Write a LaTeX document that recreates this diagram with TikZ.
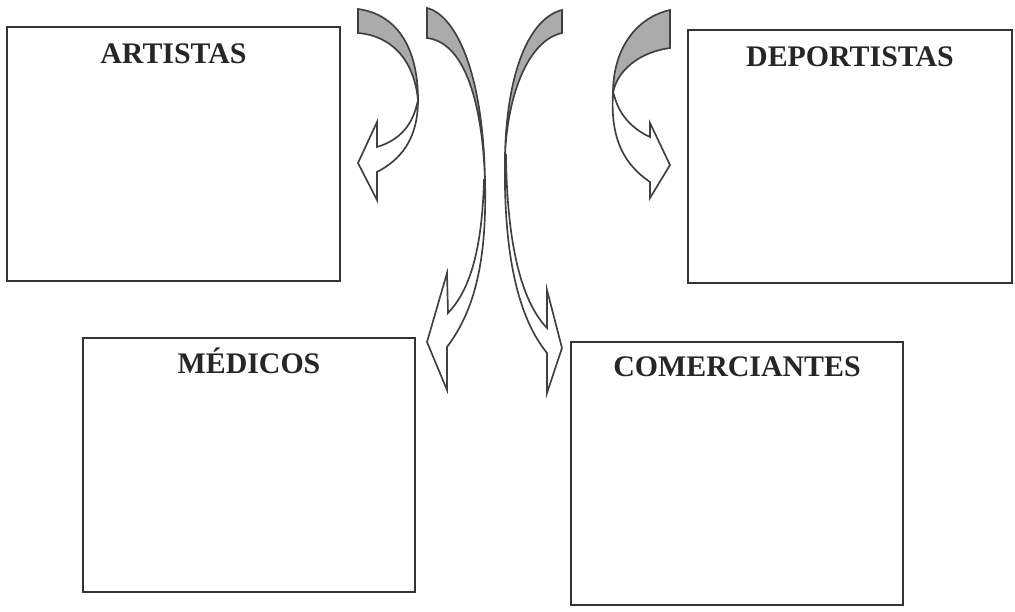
\documentclass[tikz,border=0pt]{standalone}
\usepackage{fontspec}
\setmainfont{Liberation Serif}
\begin{document}
\begin{tikzpicture}[x=0.02cm,y=-0.02cm,
    box/.style={draw=black!80,line width=1.3pt,inner sep=0pt},
    title/.style={font=\fontsize{17}{20}\selectfont\bfseries,text=black!85,anchor=base,inner sep=0pt},
    tail/.style={draw=black!75,line width=0.95pt,fill=black!33},
    body/.style={draw=black!75,line width=0.95pt,fill=white,line join=miter}]
  \useasboundingbox (0,0) rectangle (1015,612);

  % boxes
  \node[box,minimum width=6.66cm,minimum height=5.08cm] (artistas) at (173.5,154) {};
  \node[box,minimum width=6.48cm,minimum height=5.06cm] (deportistas) at (850,156.5) {};
  \node[box,minimum width=6.64cm,minimum height=5.08cm] (medicos) at (249,465) {};
  \node[box,minimum width=6.64cm,minimum height=5.26cm] (comerciantes) at (737,473.5) {};

  \node[title] (t1) at ([yshift=-0.76cm]artistas.north) {ARTISTAS};
  \node[title] (t2) at ([yshift=-0.76cm]deportistas.north) {DEPORTISTAS};
  \node[title] (t3) at ([yshift=-0.74cm]medicos.north) {MÉDICOS};
  \node[title] (t4) at ([yshift=-0.72cm]comerciantes.north) {COMERCIANTES};

  % arrow to artistas
  \draw[tail] (358,9) .. controls (395,14) and (418,45) .. (418,100)
     .. controls (414,60) and (392,36) .. (358,33) -- cycle;
  \draw[body] (418,100) .. controls (418,140) and (400,160) .. (377,172)
     -- (377,200) -- (358,163) -- (377,122) -- (377,147)
     .. controls (400,140) and (413,125) .. (418,100) -- cycle;

  % arrow to medicos
  \draw[tail] (427,8) .. controls (455,15) and (483,70) .. (485,180)
     .. controls (482,95) and (462,42) .. (427,38) -- cycle;
  \draw[body] (485,180) .. controls (487,260) and (475,310) .. (447,347)
     -- (447,390) -- (427,342) -- (447,273) -- (448,313)
     .. controls (470,290) and (482,250) .. (484,180) -- cycle;

  % arrow to comerciantes
  \draw[tail] (562,10) .. controls (530,18) and (507,70) .. (505,155)
     .. controls (508,90) and (530,40) .. (562,33) -- cycle;
  \draw[body] (505,155) .. controls (503,260) and (520,320) .. (547,353)
     -- (547,393) -- (562,348) -- (547,290) -- (547,328)
     .. controls (520,300) and (507,240) .. (506,155) -- cycle;

  % arrow to deportistas
  \draw[tail] (670,10) .. controls (635,18) and (613,50) .. (613,93)
     .. controls (617,70) and (640,52) .. (670,48) -- cycle;
  \draw[body] (613,93) .. controls (610,140) and (625,165) .. (650,182)
     -- (650,198) -- (670,165) -- (650,123) -- (650,137)
     .. controls (635,130) and (620,118) .. (614,95) -- cycle;
\end{tikzpicture}
\end{document}
